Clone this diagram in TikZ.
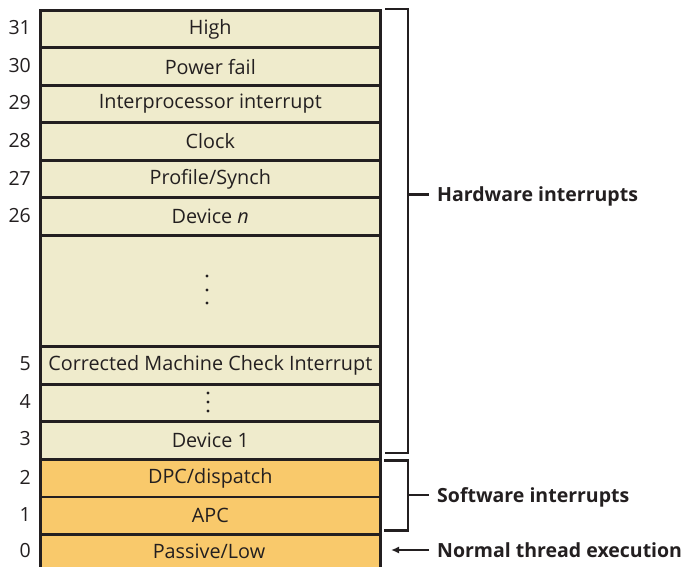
\documentclass[tikz,border=0pt]{standalone}
\usepackage{fontspec}
\setmainfont{Open Sans}
\usetikzlibrary{arrows.meta}
\definecolor{hwfill}{HTML}{EFEBCC}
\definecolor{swfill}{HTML}{F9C96B}
\definecolor{ink}{HTML}{231F20}
\tikzset{
  lvl/.style={draw=ink, line width=2.6pt, minimum width=340pt, inner sep=0pt, anchor=north west, font=\fontsize{19.8}{22}\selectfont, text=ink},
  hw/.style={lvl, fill=hwfill},
  sw/.style={lvl, fill=swfill},
  num/.style={anchor=east, inner sep=0pt, font=\fontsize{19.5}{22}\selectfont, text=ink},
  brk/.style={draw=ink, line width=2.6pt},
  lbl/.style={anchor=base west, inner sep=0pt, font=\fontsize{19.5}{22}\selectfont\bfseries, text=ink},
  vdot/.style={circle, fill=ink, inner sep=0pt, minimum size=3.3pt}
}
\begin{document}
\begin{tikzpicture}[x=1pt,y=-1pt]
\clip (0,0) rectangle (689,567);
\fill[white] (0,0) rectangle (689,567);
% rows
\node[hw, minimum height=37.5pt] (r31) at (39,9) {High};
\node[hw, minimum height=37.5pt] (r30) at (39,46.5) {Power fail};
\node[hw, minimum height=37.5pt] (r29) at (39,84) {Interprocessor interrupt};
\node[hw, minimum height=37.5pt] (r28) at (39,121.5) {Clock};
\node[hw, minimum height=37.5pt] (r27) at (39,159) {Profile/Synch};
\node[hw, minimum height=37.5pt] (r26) at (39,196.5) {Device \emph{n}};
\node[hw, minimum height=111pt] (gap) at (39,234) {};
\node[hw, minimum height=38pt] (r5) at (39,345) {Corrected Machine Check Interrupt};
\node[hw, minimum height=37pt] (r4) at (39,383) {};
\node[hw, minimum height=38pt] (r3) at (39,420) {Device 1};
\node[sw, minimum height=37.5pt] (r2) at (39,458) {DPC/dispatch};
\node[sw, minimum height=37.5pt] (r1) at (39,495.5) {APC};
\node[sw, minimum height=45pt] (r0) at (39,533) {};
\node[anchor=center, inner sep=0pt, font=\fontsize{19.8}{22}\selectfont, text=ink] (r0t) at (209,551) {Passive/Low};
% dots
\node[vdot] (d1) at (207,276) {};
\node[vdot] (d2) at (207,290) {};
\node[vdot] (d3) at (207,303) {};
\node[vdot] (e1) at (208,393) {};
\node[vdot] (e2) at (208,402) {};
\node[vdot] (e3) at (208,411) {};
% numbers
\node[num] (n31) at (31,28) {31};
\node[num] (n30) at (31,65.5) {30};
\node[num] (n29) at (31,103) {29};
\node[num] (n28) at (31,140.5) {28};
\node[num] (n27) at (31,178) {27};
\node[num] (n26) at (31,215.5) {26};
\node[num] (n5) at (31,364) {5};
\node[num] (n4) at (31,401.5) {4};
\node[num] (n3) at (31,439) {3};
\node[num] (n2) at (31,477) {2};
\node[num] (n1) at (31,514.5) {1};
\node[num] (n0) at (31,551) {0};
% brackets
\coordinate (hwt) at (385,9);
\coordinate (hwb) at (385,453);
\coordinate (hwm) at (408,194.5);
\coordinate (hwe) at (429,194.5);
\draw[brk] (hwt) -- (408,9) -- (408,453) -- (hwb);
\draw[brk] (hwm) -- (hwe);
\node[lbl] (hwl) at (437,202) {Hardware interrupts};
\coordinate (swt) at (384,460.5);
\coordinate (swb) at (384,530.5);
\coordinate (swm) at (408,495);
\coordinate (swe) at (429,495);
\draw[brk] (swt) -- (408,460.5) -- (408,530.5) -- (swb);
\draw[brk] (swm) -- (swe);
\node[lbl] (swl) at (437,502.5) {Software interrupts};
\coordinate (ars) at (429,550);
\coordinate (are) at (391,550);
\draw[brk, line width=2.2pt, -{Latex[length=8pt,width=7pt]}] (ars) -- (are);
\node[lbl] (ntl) at (437,557.5) {Normal thread execution};
\end{tikzpicture}
\end{document}
